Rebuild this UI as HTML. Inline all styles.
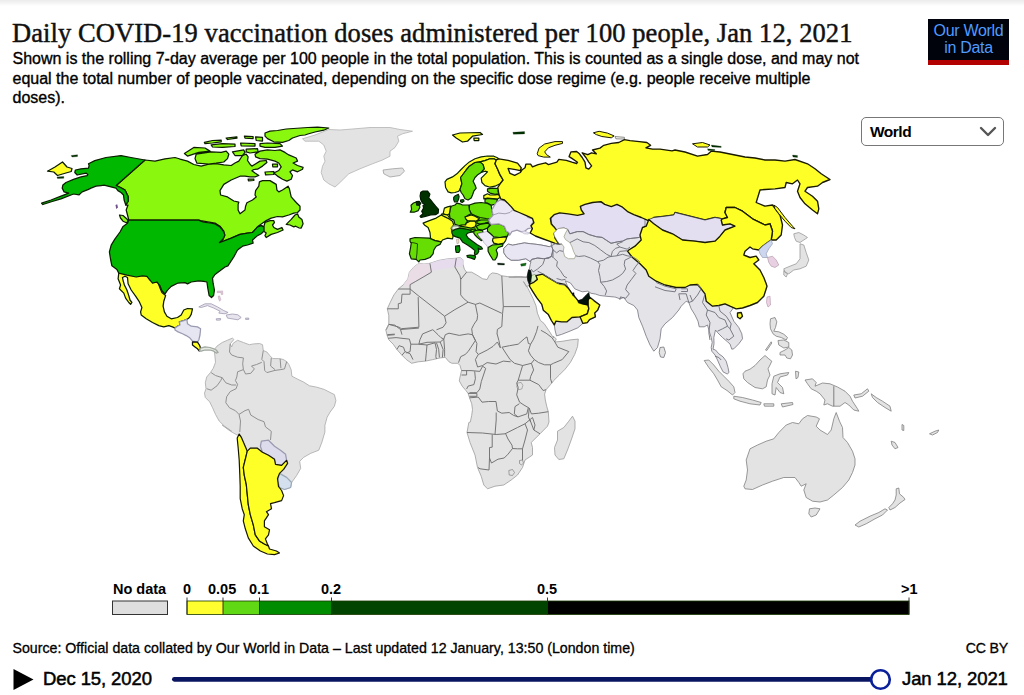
<!DOCTYPE html>
<html><head><meta charset="utf-8"><title>Daily COVID-19 vaccination doses administered per 100 people</title>
<style>
html,body{margin:0;padding:0;background:#fff;}
body{width:1024px;height:695px;position:relative;overflow:hidden;font-family:"Liberation Sans",sans-serif;color:#000;}
.abs{position:absolute;white-space:nowrap;}
#topbar{left:0;top:0;width:1024px;height:6px;background:linear-gradient(#ececec,#f6f6f6 60%,#fff);}
#title{left:12px;top:16px;font-family:"Liberation Serif",serif;font-size:26.5px;line-height:34px;letter-spacing:0.08px;color:#111;-webkit-text-stroke:0.45px #111;}
.sub{left:12.5px;font-size:16px;line-height:20px;letter-spacing:0px;-webkit-text-stroke:0.35px #000;}
#logo{left:928px;top:19px;width:81px;height:46px;background:#00020c;border-bottom:0;}
#logo .red{position:absolute;left:0;bottom:0;width:100%;height:5px;background:#b30000;}
#logo .t{position:absolute;left:0;width:100%;text-align:center;color:#4f9bff;font-size:16px;line-height:17px;letter-spacing:-0.3px;}
#sel{left:861px;top:117px;width:141px;height:27px;border:1.5px solid #777;border-radius:5px;background:#fff;box-sizing:content-box;}
#sel .w{position:absolute;left:8px;top:4px;font-size:15.5px;font-weight:bold;letter-spacing:-0.5px;line-height:19px;}
.leg{font-weight:bold;font-size:14.5px;letter-spacing:0px;line-height:16px;top:580.8px;}
#src{left:12.5px;top:639px;font-size:14.2px;line-height:18px;letter-spacing:0px;-webkit-text-stroke:0.3px #000;}
#cc{right:16px;top:639px;font-size:14.2px;line-height:18px;letter-spacing:-0.2px;-webkit-text-stroke:0.3px #000;}
.date{font-size:18.5px;line-height:24px;top:667px;letter-spacing:-0.1px;-webkit-text-stroke:0.5px #000;}
</style></head><body>
<div class="abs" id="topbar"></div>
<div class="abs" id="title">Daily COVID-19 vaccination doses administered per 100 people, Jan 12, 2021</div>
<div class="abs sub" id="s1" style="top:49px">Shown is the rolling 7-day average per 100 people in the total population. This is counted as a single dose, and may not</div>
<div class="abs sub" id="s2" style="top:68.5px">equal the total number of people vaccinated, depending on the specific dose regime (e.g. people receive multiple</div>
<div class="abs sub" id="s3" style="top:88px">doses).</div>
<div class="abs" id="logo"><div class="t" style="top:3px">Our World</div><div class="t" style="top:20px">in Data</div><div class="red"></div></div>
<div class="abs" id="sel"><span class="w">World</span>
<svg style="position:absolute;right:6px;top:8px" width="18" height="12" viewBox="0 0 18 12"><path d="M2,2 L9,9 L16,2" fill="none" stroke="#555" stroke-width="2.4" stroke-linecap="round" stroke-linejoin="round"/></svg></div>

<svg class="abs" style="left:0;top:0" width="1024" height="695" viewBox="0 0 1024 695">
<g id="map">
<path d="M118.8,273.1 L118.1,278.8 L120.6,285.0 L119.4,288.8 L123.8,293.1 L125.6,298.1 L128.8,302.5 L130.6,304.4 L131.9,302.5 L130.0,300.0 L128.8,295.6 L126.9,290.0 L124.4,285.0 L123.1,280.6 L122.5,277.5 L125.0,276.2 L127.5,277.5 L128.1,283.8 L131.2,290.0 L135.6,296.2 L139.4,301.9 L141.9,307.5 L140.6,311.9 L141.2,315.0 L146.2,318.8 L152.5,322.5 L158.8,325.6 L163.8,326.9 L168.8,325.6 L172.5,326.9 L175.0,328.1 L177.5,326.2 L180.0,325.0 L179.4,321.9 L183.8,320.6 L186.9,319.4 L189.4,317.5 L191.2,314.4 L192.5,308.8 L187.5,308.5 L183.8,310.0 L181.2,315.0 L177.5,317.5 L171.2,318.8 L166.9,316.2 L164.4,311.9 L163.1,306.2 L163.8,301.2 L165.6,295.6 L161.9,292.5 L160.0,288.1 L158.1,282.5 L154.4,281.9 L150.0,280.0 L146.9,275.6 L143.8,274.4 L136.9,275.0 L128.8,273.8 L125.0,272.8Z" fill="#ffff28" stroke="#0c1c00" stroke-width="1.25" stroke-linejoin="round"/>
<path d="M47.5,171.2 L55.0,167.0 L62.5,162.0 L67.0,167.0 L72.0,168.5 L71.2,171.5 L62.5,174.0 L57.5,175.5 L53.8,172.0Z" fill="#ffff28" stroke="#0c1c00" stroke-width="1.25" stroke-linejoin="round"/>
<path d="M71.2,155.5 L77.5,154.8 L77.5,156.5 L72.0,157.0ZM57.0,177.0 L63.8,176.5 L63.8,178.2 L57.5,178.5Z" fill="#003200" stroke="#0c1c00" stroke-width="0.3" stroke-linejoin="round"/>
<path d="M145.0,160.0 L155.0,161.2 L165.0,158.8 L175.0,157.5 L180.0,159.0 L180.0,159.2 L187.5,161.1 L193.8,164.5 L201.2,166.1 L208.8,164.2 L216.2,163.6 L223.8,164.9 L231.2,165.5 L235.0,163.0 L238.8,161.1 L242.5,155.5 L246.2,154.2 L248.1,156.8 L247.5,160.5 L250.0,164.2 L251.9,166.1 L255.0,164.2 L260.0,161.1 L266.2,160.5 L266.9,162.4 L262.5,166.1 L257.5,169.2 L253.8,169.5 L251.9,170.8 L255.0,173.0 L258.8,175.5 L255.0,176.8 L250.0,176.8 L245.0,176.1 L240.0,176.2 L231.2,180.0 L223.8,184.4 L220.0,190.6 L220.6,195.0 L227.5,196.9 L233.8,201.0 L238.8,202.2 L238.1,204.4 L238.1,210.0 L240.0,213.8 L245.0,210.0 L245.6,206.2 L246.9,202.8 L252.5,200.0 L256.2,196.9 L255.0,195.0 L255.6,190.6 L258.8,186.2 L259.4,181.9 L262.5,180.6 L270.0,180.6 L276.2,184.4 L276.9,190.0 L278.8,191.9 L282.5,190.0 L288.1,186.2 L289.4,188.8 L291.2,196.9 L296.2,202.5 L300.0,206.2 L300.0,210.0 L297.5,212.5 L293.8,213.1 L288.8,215.0 L282.5,216.9 L277.5,216.5 L271.2,218.1 L266.2,220.6 L260.6,224.4 L258.1,226.2 L261.2,225.6 L263.8,226.9 L265.0,222.5 L270.0,220.6 L273.8,220.6 L274.4,222.5 L272.5,225.0 L273.8,227.5 L277.5,229.4 L281.9,227.5 L283.1,230.0 L277.5,232.5 L271.2,234.4 L266.2,237.5 L265.0,235.6 L266.2,233.1 L263.8,231.2 L263.8,226.9 L261.2,225.6 L257.5,226.9 L252.5,232.5 L247.5,233.1 L240.0,234.4 L231.2,238.1 L220.0,242.5 L223.1,239.4 L224.4,235.0 L223.8,231.2 L220.0,226.2 L215.0,223.1 L200.6,220.6 L198.8,220.0 L190.0,220.0 L128.8,220.0 L126.2,210.0 L128.0,205.0 L125.8,205.0 L128.2,201.2 L128.0,196.2 L125.0,190.0 L120.5,187.5 L116.2,185.5Z" fill="#8af80e" stroke="#0c1c00" stroke-width="1.25" stroke-linejoin="round"/>
<path d="M286.2,224.4 L291.2,219.4 L295.0,215.0 L297.5,213.8 L298.8,216.9 L301.9,219.4 L303.1,223.8 L301.2,228.1 L298.8,227.8 L295.6,226.2 L293.8,226.9 L290.0,225.0Z" fill="#8af80e" stroke="#0c1c00" stroke-width="1.25" stroke-linejoin="round"/>
<path d="M119.5,215.0 L123.0,215.5 L128.0,220.0 L127.0,223.0 L123.0,221.2 L120.5,218.0Z" fill="#8af80e" stroke="#0c1c00" stroke-width="1.25" stroke-linejoin="round"/>
<path d="M88.5,163.8 L94.8,160.6 L106.0,157.5 L121.0,155.6 L131.0,157.5 L145.0,160.0 L116.2,185.5 L120.5,187.5 L125.0,190.0 L128.0,196.2 L128.2,201.2 L125.8,205.0 L124.1,200.0 L123.5,195.0 L121.0,192.5 L117.9,190.6 L116.0,188.1 L111.0,186.9 L104.1,185.2 L101.0,185.6 L96.0,186.2 L91.0,188.1 L88.5,189.4 L82.2,191.9 L79.1,194.8 L73.5,194.0 L61.0,198.8 L52.2,201.5 L42.9,204.5 L41.6,203.2 L51.0,200.0 L61.0,196.2 L68.8,193.1 L64.1,191.9 L62.2,188.1 L62.9,185.0 L66.0,182.5 L73.5,179.4 L81.0,176.9 L87.2,175.6 L87.9,174.4 L86.0,173.1 L77.2,175.0 L74.8,172.5 L75.4,170.0 L81.0,168.8 L88.5,168.1 L89.1,165.6Z" fill="#00b800" stroke="#0c1c00" stroke-width="1.25" stroke-linejoin="round"/>
<path d="M255.0,154.2 L260.0,151.1 L267.5,149.9 L275.0,150.5 L280.0,149.9 L285.0,152.4 L288.8,154.9 L296.2,158.0 L297.5,161.1 L293.1,163.0 L297.5,165.5 L303.1,167.4 L302.5,169.2 L297.5,171.8 L292.5,169.9 L290.0,171.8 L292.5,175.5 L291.2,179.2 L286.9,181.1 L282.5,179.2 L277.5,176.1 L273.8,173.0 L278.8,170.5 L281.2,166.8 L278.8,163.0 L275.0,161.1 L267.5,159.2 L260.0,158.6 L255.6,156.8ZM265.0,133.0 L270.0,131.1 L277.5,130.5 L286.2,129.0 L307.9,127.5 L317.5,127.2 L328.8,128.0 L323.8,130.2 L315.0,132.0 L307.9,134.0 L305.0,135.0 L300.0,135.5 L292.5,138.0 L288.8,140.5 L282.5,142.4 L273.8,141.8 L267.5,138.6 L265.0,136.1ZM260.0,143.6 L267.5,143.0 L280.0,143.6 L282.5,146.1 L275.0,147.4 L265.0,147.4 L260.0,146.1ZM184.4,153.6 L193.8,147.4 L205.0,148.0 L210.0,151.1 L198.8,152.4 L187.5,156.1ZM196.2,154.2 L211.2,151.8 L221.2,152.4 L226.2,151.1 L228.8,154.2 L227.5,158.6 L223.8,162.0 L216.2,163.2 L208.8,164.0 L196.9,163.2 L195.0,158.6ZM232.5,151.8 L243.8,149.9 L245.0,152.4 L242.5,155.5 L235.0,155.5ZM246.2,149.2 L257.5,148.6 L258.1,151.8 L250.0,153.0 L246.2,151.8ZM204.4,142.4 L212.5,140.5 L221.2,140.2 L221.2,141.8 L212.5,143.0 L205.0,143.6ZM211.2,144.9 L222.5,143.6 L235.0,144.2 L235.0,146.5 L222.5,147.4 L212.5,147.0ZM226.2,138.0 L236.9,136.8 L236.9,138.2 L227.5,139.5ZM244.4,136.1 L253.1,136.5 L253.1,138.6 L245.0,138.2ZM255.6,136.8 L262.5,137.4 L262.5,141.1 L256.2,140.5ZM240.6,143.0 L255.0,143.6 L255.0,146.1 L241.2,145.8ZM265.0,172.0 L273.8,171.5 L273.8,174.5 L265.6,174.9ZM272.5,164.2 L277.5,164.0 L277.5,166.8 L272.8,166.8ZM248.1,179.2 L253.8,179.0 L253.8,180.5 L248.5,180.8Z" fill="#8af80e" stroke="#0c1c00" stroke-width="1.25" stroke-linejoin="round"/>
<path d="M128.8,220.1 L198.8,220.1 L200.0,220.8 L203.8,222.2 L210.0,223.0 L215.0,223.9 L220.0,227.0 L223.1,230.8 L225.0,235.1 L223.1,238.9 L219.4,242.6 L220.0,242.5 L231.2,238.1 L240.0,234.4 L247.5,233.1 L252.5,232.5 L257.5,226.9 L261.2,225.6 L263.8,226.9 L263.8,231.2 L261.2,233.8 L257.5,235.6 L252.5,240.0 L253.1,243.1 L247.5,245.0 L242.5,246.2 L237.5,250.0 L233.8,256.9 L227.9,265.8 L225.0,267.0 L220.0,270.8 L215.0,274.5 L212.5,278.2 L213.1,283.2 L214.4,290.1 L213.6,295.5 L211.5,297.5 L209.1,295.5 L207.8,288.2 L206.9,282.0 L203.8,281.4 L198.8,280.8 L191.2,282.0 L187.5,283.9 L185.0,282.6 L177.5,283.2 L171.2,286.4 L167.5,290.1 L165.0,293.9 L161.9,290.8 L160.0,285.8 L156.9,282.0 L152.5,283.2 L150.0,280.1 L146.9,276.4 L142.5,275.8 L136.2,277.0 L126.9,275.1 L118.8,273.2 L116.9,269.5 L111.9,265.8 L110.6,259.5 L109.4,252.0 L111.2,245.1 L115.0,238.9 L120.0,232.0 L123.1,226.4 L127.5,223.2Z" fill="#00b800" stroke="#0c1c00" stroke-width="1.25" stroke-linejoin="round"/>
<path d="M175.0,328.1 L177.5,326.2 L180.0,325.0 L179.4,321.9 L183.8,320.6 L186.9,319.4 L187.5,323.8 L191.2,326.2 L197.5,326.9 L200.6,328.8 L200.0,335.0 L198.8,340.0 L197.5,341.9 L192.5,341.2 L190.0,338.1 L186.2,335.6 L182.5,333.8 L178.1,331.9 L175.0,330.0Z" fill="#e6e6f2" stroke="#9a9ab0" stroke-width="1.25" stroke-linejoin="round"/>
<path d="M192.5,341.9 L197.5,342.2 L199.4,345.0 L200.6,348.1 L199.4,351.2 L197.5,348.8 L195.0,346.9 L192.5,345.0Z" fill="#ffff28" stroke="#111" stroke-width="1.3" stroke-linejoin="round"/>
<path d="M198.8,306.9 L205.0,303.8 L211.2,303.8 L217.5,306.9 L223.8,310.6 L228.1,312.5 L225.0,313.8 L218.8,313.1 L220.0,311.2 L213.8,308.1 L207.5,305.6 L201.2,307.5ZM226.2,315.0 L232.5,314.0 L237.9,314.8 L241.2,317.5 L237.9,319.8 L233.1,319.0 L227.5,318.1ZM216.2,318.8 L220.6,318.5 L220.6,320.0 L216.5,320.2ZM245.6,318.1 L248.8,318.1 L248.8,319.4 L245.6,319.4Z" fill="#e8e4ee" stroke="#a098b0" stroke-width="0.8" stroke-linejoin="round"/>
<path d="M328.8,129.5 L340.0,130.0 L355.0,128.8 L370.0,127.5 L390.0,127.5 L400.0,129.5 L412.5,131.2 L402.5,133.8 L397.5,136.2 L398.8,141.2 L395.0,147.5 L390.0,151.2 L390.0,156.2 L382.5,160.0 L372.5,163.8 L360.0,168.8 L348.8,173.8 L340.0,182.5 L335.0,187.0 L328.8,183.8 L323.8,180.0 L321.2,172.5 L322.5,166.2 L325.0,161.2 L323.8,156.2 L326.2,151.2 L323.8,145.0 L318.8,141.2 L305.0,141.2 L302.5,138.8 L315.0,135.0Z" fill="#e3e3e3" stroke="#b4b4b4" stroke-width="0.8" stroke-linejoin="round"/>
<path d="M383.0,170.0 L392.5,168.8 L402.5,168.0 L404.5,171.2 L400.0,175.5 L390.0,177.0 L383.8,173.8Z" fill="#e3e3e3" stroke="#a0a0a0" stroke-width="0.8" stroke-linejoin="round"/>
<path d="M452.5,135.0 L460.0,133.0 L480.0,132.5 L482.5,134.5 L472.5,136.2 L467.5,141.2 L462.5,142.0 L456.2,138.0ZM473.8,138.0 L478.8,138.0 L478.8,140.5 L474.2,140.5Z" fill="#ffff28" stroke="#0c1c00" stroke-width="1.25" stroke-linejoin="round"/>
<path d="M214.1,349.8 L217.0,346.1 L222.2,342.5 L227.3,340.3 L232.4,338.1 L233.9,339.5 L230.2,343.9 L231.7,346.9 L233.2,343.2 L237.6,340.3 L243.4,342.5 L249.3,344.7 L253.7,343.9 L259.6,343.5 L262.5,344.7 L263.3,350.5 L266.9,352.0 L269.9,355.7 L272.8,358.6 L278.7,358.6 L283.1,359.4 L286.7,361.6 L288.9,364.5 L291.1,369.6 L291.9,376.2 L297.7,379.2 L303.6,382.1 L309.5,385.8 L316.8,387.2 L324.2,389.4 L330.0,392.4 L334.4,394.6 L335.9,400.5 L334.4,406.3 L330.0,412.2 L327.1,417.3 L324.9,425.4 L324.9,432.0 L324.9,432.1 L321.9,442.2 L318.8,450.2 L310.8,453.3 L303.7,457.3 L299.7,461.3 L300.7,468.4 L296.7,475.4 L291.6,482.5 L290.6,487.5 L284.6,489.5 L279.5,487.5 L277.5,480.5 L279.5,473.4 L283.6,469.4 L287.6,463.3 L286.6,460.3 L281.6,465.3 L275.5,464.3 L274.5,459.3 L268.5,455.3 L262.4,452.2 L257.4,448.2 L250.3,448.2 L247.3,451.2 L244.3,444.2 L241.2,437.1 L239.2,434.1 L237.2,435.1 L230.2,431.1 L222.1,425.0 L231.7,431.3 L224.4,426.1 L219.2,421.0 L215.5,414.4 L212.6,407.8 L209.7,401.9 L205.3,397.5 L204.5,393.1 L206.0,388.7 L205.3,382.8 L206.7,377.0 L210.4,372.6 L213.3,368.2 L215.5,362.3 L214.8,355.0Z" fill="#e3e3e3" stroke="#a8a8a8" stroke-width="0.8" stroke-linejoin="round"/>
<path d="M200.6,348.1 L205.0,346.9 L210.0,347.5 L213.8,348.8 L216.2,350.0 L218.1,352.5 L216.2,353.1 L213.8,351.2 L210.0,350.0 L205.0,350.0 L201.2,351.2 L199.4,351.2Z" fill="#e4e8e0" stroke="#a0a8a0" stroke-width="1.25" stroke-linejoin="round"/>
<path d="M261.4,441.2 L268.5,440.2 L274.5,446.2 L280.5,450.2 L285.6,454.3 L286.6,460.3 L281.6,465.3 L275.5,464.3 L274.5,459.3 L268.5,455.3 L262.4,452.2 L260.4,446.2Z" fill="#dcdcec" stroke="#9a9ab0" stroke-width="1.25" stroke-linejoin="round"/>
<path d="M279.5,473.4 L286.6,477.4 L291.6,482.5 L290.6,487.5 L284.6,489.5 L279.5,487.5 L277.5,480.5Z" fill="#d4e0ee" stroke="#9aa8b8" stroke-width="1.25" stroke-linejoin="round"/>
<path d="M239.2,434.1 L241.2,437.1 L244.3,444.2 L247.3,451.2 L245.3,459.3 L243.3,467.4 L244.3,475.4 L246.3,484.5 L247.3,494.6 L248.3,504.7 L250.3,514.7 L253.3,524.8 L255.3,534.9 L259.4,540.9 L264.4,544.0 L268.5,546.0 L269.5,549.0 L276.5,551.0 L279.5,553.0 L274.5,554.6 L267.4,554.0 L260.4,551.0 L253.3,546.0 L248.3,537.9 L245.3,528.8 L243.3,520.8 L244.3,514.7 L242.2,508.7 L240.2,498.6 L240.2,486.5 L239.8,474.4 L239.2,460.3 L238.2,448.2 L237.2,438.1Z" fill="#ffff28" stroke="#161600" stroke-width="1.2" stroke-linejoin="round"/>
<path d="M247.3,451.2 L250.3,448.2 L257.4,448.2 L262.4,452.2 L268.5,455.3 L274.5,459.3 L275.5,464.3 L281.6,465.3 L286.6,460.3 L287.6,463.3 L283.6,469.4 L279.5,473.4 L277.5,478.5 L278.5,486.5 L281.6,490.5 L283.6,495.6 L281.6,500.6 L274.5,502.6 L270.5,503.6 L271.5,508.7 L266.4,511.7 L268.5,514.7 L264.4,520.8 L264.4,526.8 L269.5,529.8 L268.5,534.9 L265.4,538.9 L267.4,544.0 L268.5,546.0 L264.4,544.0 L259.4,540.9 L255.3,534.9 L253.3,524.8 L250.3,514.7 L248.3,504.7 L247.3,494.6 L246.3,484.5 L244.3,475.4 L243.3,467.4 L245.3,459.3Z" fill="#ffff28" stroke="#161600" stroke-width="1.2" stroke-linejoin="round"/>
<path d="M418.9,263.3 L424.0,264.1 L429.9,263.3 L438.7,260.4 L447.5,258.9 L456.3,258.2 L460.0,257.5 L462.9,259.7 L462.9,264.1 L464.4,269.2 L466.6,272.2 L471.7,272.2 L476.9,275.1 L482.7,278.8 L487.1,279.5 L489.3,275.1 L492.3,272.9 L497.4,273.6 L501.8,275.8 L507.7,276.6 L515.0,277.3 L520.9,276.6 L526.8,277.3 L508.8,277.2 L516.1,276.4 L523.5,277.2 L527.2,277.2 L529.4,285.2 L526.4,286.7 L523.5,281.6 L527.9,288.2 L533.0,298.4 L536.0,305.8 L537.4,313.1 L540.4,320.5 L544.0,323.4 L549.9,332.2 L553.6,338.1 L553.4,336.1 L556.3,339.1 L554.9,342.0 L562.2,341.3 L571.0,339.8 L578.3,339.1 L577.6,346.4 L574.7,354.5 L570.3,362.6 L565.1,369.2 L559.3,375.0 L553.4,380.9 L550.5,384.6 L546.1,389.7 L544.6,394.1 L545.3,400.0 L546.8,406.6 L548.3,411.7 L549.0,422.0 L547.5,426.2 L540.0,433.8 L531.2,442.5 L532.5,447.5 L532.5,455.0 L525.0,460.0 L522.5,467.5 L517.5,475.0 L511.2,480.0 L503.8,485.0 L495.0,486.2 L487.5,488.8 L483.8,485.0 L481.2,476.2 L477.5,467.5 L475.0,455.0 L470.0,442.5 L467.0,432.5 L468.8,422.5 L470.3,422.0 L471.7,415.4 L472.5,409.5 L471.7,403.7 L469.5,397.8 L468.1,393.4 L465.9,390.5 L462.2,386.1 L459.3,380.9 L460.0,377.2 L461.5,370.6 L460.0,365.5 L457.8,363.3 L451.9,363.3 L449.0,361.8 L445.3,357.4 L440.2,357.9 L432.8,359.6 L425.5,361.1 L418.2,361.8 L411.6,363.3 L406.4,359.6 L401.3,354.5 L396.9,349.4 L393.2,344.2 L388.8,339.8 L387.3,336.1 L385.9,330.3 L388.8,324.4 L385.9,330.1 L388.8,324.3 L388.8,315.5 L387.3,308.8 L390.3,302.2 L393.9,294.9 L398.3,289.0 L403.5,284.6 L407.9,278.8 L409.4,272.2 L413.8,267.0Z" fill="#e3e3e3" stroke="#9c9c9c" stroke-width="0.8" stroke-linejoin="round"/>
<path d="M572.5,416.2 L575.0,421.2 L575.0,428.8 L571.2,440.0 L567.5,450.0 L563.8,458.8 L558.8,459.5 L555.0,455.0 L554.5,447.5 L557.5,440.0 L557.5,431.2 L563.8,427.5 L568.8,421.2Z" fill="#e3e3e3" stroke="#9c9c9c" stroke-width="0.8" stroke-linejoin="round"/>
<path d="M418.9,263.3 L424.0,264.1 L429.9,263.3 L431.4,272.2 L424.0,276.6 L415.2,281.7 L410.1,284.6 L409.4,287.6 L403.5,284.6 L407.9,278.8 L409.4,272.2 L413.8,267.0Z" fill="#eadde6" stroke="none" stroke-width="0" stroke-linejoin="round"/>
<path d="M429.9,263.3 L438.7,260.4 L447.5,258.9 L456.3,258.2 L460.0,257.5 L462.9,259.7 L462.9,264.1 L462.2,267.0 L454.9,267.0 L431.4,270.7Z" fill="#e6dcee" stroke="none" stroke-width="0" stroke-linejoin="round"/>
<path d="M517.4,383.1 L521.1,382.4 L522.9,385.3 L521.8,389.0 L518.5,389.7 L516.7,386.8Z" fill="#e3e3e3" stroke="#707070" stroke-width="0.5" stroke-linejoin="round"/>
<path d="M508.8,470.5 L512.5,469.5 L514.5,472.5 L512.5,475.5 L509.2,475.0ZM519.5,460.5 L522.5,460.0 L523.5,463.0 L521.5,465.0 L519.5,463.5Z" fill="#e3e3e3" stroke="#707070" stroke-width="0.6" stroke-linejoin="round"/>
<path d="M455.0,224.4 L460.0,210.0 L470.0,211.2 L490.0,220.0 L491.2,224.4 L487.5,228.5 L482.5,230.6 L475.0,231.5 L470.0,230.6 L460.0,228.1Z" fill="#66de04" stroke="none" stroke-width="0" stroke-linejoin="round"/>
<path d="M448.1,191.9 L445.6,187.5 L445.0,181.9 L446.9,179.4 L452.5,176.9 L456.9,173.8 L460.6,170.0 L465.0,165.6 L469.4,161.9 L475.0,158.8 L481.2,156.9 L487.5,156.0 L493.8,156.2 L496.9,157.5 L498.8,158.8 L496.2,160.0 L493.8,158.8 L490.0,158.8 L485.0,160.6 L480.0,161.9 L475.0,162.5 L469.4,166.2 L466.2,170.0 L462.5,175.0 L460.6,177.5 L461.9,183.8 L460.0,189.4 L458.8,191.2 L455.0,192.5 L451.2,192.8Z" fill="#ffff28" stroke="#0a2400" stroke-width="1.2" stroke-linejoin="round"/>
<path d="M480.0,161.9 L483.1,164.4 L484.4,168.8 L481.2,172.5 L478.1,174.4 L475.0,177.5 L473.1,181.2 L475.0,185.0 L476.2,188.1 L473.8,191.2 L472.5,195.0 L471.2,198.1 L468.1,200.0 L465.0,198.8 L463.1,195.0 L461.2,192.5 L460.0,189.4 L461.9,183.8 L460.6,177.5 L462.5,175.0 L466.2,170.0 L469.4,166.2 L475.0,162.5Z" fill="#66de04" stroke="#0a2400" stroke-width="1.2" stroke-linejoin="round"/>
<path d="M480.0,161.9 L485.0,160.6 L490.0,158.8 L493.8,158.8 L496.2,160.0 L495.0,163.8 L497.5,168.8 L500.0,175.0 L503.1,180.0 L500.0,183.8 L495.0,186.2 L490.0,187.2 L485.0,185.6 L481.9,182.5 L481.2,178.1 L485.0,174.4 L487.5,171.9 L485.0,171.2 L481.2,172.5 L484.4,168.8 L483.1,164.4Z" fill="#ffff28" stroke="#0a2400" stroke-width="1.2" stroke-linejoin="round"/>
<path d="M487.5,188.8 L492.5,188.1 L498.8,188.5 L498.1,191.2 L498.8,193.8 L495.0,194.4 L490.0,193.1 L487.5,191.2Z" fill="#66de04" stroke="#0a2400" stroke-width="1.2" stroke-linejoin="round"/>
<path d="M483.8,195.6 L487.5,193.8 L490.0,195.0 L495.0,194.8 L498.8,194.4 L500.0,197.5 L497.5,199.0 L492.5,198.5 L487.5,198.1 L483.8,198.8Z" fill="#ffff28" stroke="#0a2400" stroke-width="1.2" stroke-linejoin="round"/>
<path d="M485.0,199.4 L487.5,198.5 L492.5,198.8 L497.5,199.4 L496.2,202.5 L495.0,204.4 L491.2,205.2 L487.5,203.1 L485.0,202.5Z" fill="#66de04" stroke="#0a2400" stroke-width="1.2" stroke-linejoin="round"/>
<path d="M469.4,205.0 L475.0,203.1 L481.2,202.5 L487.5,203.5 L491.2,205.6 L491.9,210.0 L493.1,215.0 L491.2,218.8 L486.2,218.5 L480.0,217.5 L475.0,215.6 L471.2,213.8 L469.4,210.0Z" fill="#66de04" stroke="#0a2400" stroke-width="1.2" stroke-linejoin="round"/>
<path d="M450.0,210.0 L451.2,206.2 L455.0,205.0 L456.9,203.1 L460.0,203.8 L462.5,205.0 L468.8,205.0 L469.4,210.0 L471.2,213.8 L467.5,215.6 L465.6,217.5 L467.5,221.2 L465.0,225.0 L458.8,225.6 L455.0,224.4 L453.8,220.0 L450.0,218.1 L449.4,213.8Z" fill="#66de04" stroke="#0a2400" stroke-width="1.2" stroke-linejoin="round"/>
<path d="M453.7,197.3 L455.3,195.7 L458.4,194.4 L459.1,196.7 L458.4,199.8 L457.2,202.0 L454.6,202.0 L453.7,199.8ZM460.6,200.1 L463.2,199.5 L464.1,201.1 L462.2,202.4 L460.6,201.7Z" fill="#007818" stroke="#0a2400" stroke-width="1.2" stroke-linejoin="round"/>
<path d="M444.4,208.1 L447.5,206.9 L450.6,206.2 L450.0,210.0 L449.4,213.8 L447.5,215.0 L443.1,213.8Z" fill="#ffff28" stroke="#0a2400" stroke-width="1.2" stroke-linejoin="round"/>
<path d="M441.9,213.8 L447.5,215.0 L449.4,217.5 L448.1,219.4 L444.4,218.1 L441.2,215.6Z" fill="#ffff28" stroke="#0a2400" stroke-width="1.2" stroke-linejoin="round"/>
<path d="M420.8,192.2 L423.0,191.0 L427.4,191.0 L429.9,194.1 L428.7,197.9 L430.6,199.8 L433.1,203.0 L435.6,206.2 L438.5,209.3 L438.2,213.1 L435.6,214.7 L430.6,215.0 L425.5,216.3 L421.1,217.5 L420.1,216.3 L423.0,213.7 L421.7,211.2 L423.6,208.1 L423.0,205.5 L425.5,204.9 L422.4,203.0 L420.8,199.8 L420.1,196.0ZM416.3,201.7 L419.2,201.4 L420.8,203.3 L419.5,205.5 L416.7,205.2Z" fill="#003200" stroke="#001800" stroke-width="1.2" stroke-linejoin="round"/>
<path d="M411.0,205.2 L413.5,203.0 L416.3,202.0 L416.7,205.2 L419.5,205.5 L419.8,207.4 L418.2,210.6 L414.1,212.2 L410.3,212.2 L411.6,209.3Z" fill="#66de04" stroke="#0a2400" stroke-width="1.2" stroke-linejoin="round"/>
<path d="M423.1,223.1 L429.4,220.6 L436.2,218.1 L441.2,215.0 L445.0,216.9 L448.8,218.8 L452.5,221.2 L453.8,225.0 L451.2,228.1 L452.5,232.5 L453.1,236.2 L452.5,238.8 L447.5,238.1 L442.5,240.0 L441.2,241.9 L435.0,240.6 L430.6,238.8 L430.0,232.5 L428.1,227.5 L424.4,225.0Z" fill="#ffff28" stroke="#0a2400" stroke-width="1.2" stroke-linejoin="round"/>
<path d="M410.0,238.8 L415.0,237.5 L429.4,238.1 L435.0,240.6 L441.2,241.9 L440.0,244.4 L436.2,246.2 L433.8,250.0 L433.1,253.8 L430.0,257.5 L425.0,259.4 L420.0,260.0 L418.8,261.9 L416.2,259.4 L411.2,258.8 L409.4,253.8 L410.6,247.5 L411.2,243.1 L410.0,241.2Z" fill="#66de04" stroke="#0a2400" stroke-width="1.2" stroke-linejoin="round"/>
<path d="M451.2,228.1 L453.8,225.6 L458.1,226.0 L460.0,227.2 L457.5,229.4 L453.1,230.0Z" fill="#e8f0e0" stroke="#7a8a70" stroke-width="1.2" stroke-linejoin="round"/>
<path d="M451.9,231.2 L455.0,229.4 L460.0,228.1 L465.0,228.8 L470.0,230.0 L472.5,231.9 L470.0,232.5 L467.5,233.1 L466.2,235.0 L468.1,238.1 L472.5,241.2 L476.9,244.4 L481.2,246.9 L482.5,248.8 L480.0,249.4 L478.1,248.1 L478.8,251.2 L477.5,253.8 L475.0,255.0 L474.4,253.1 L475.0,250.6 L471.2,247.5 L467.5,245.0 L462.5,241.9 L460.0,238.1 L456.2,236.9 L453.1,235.6 L451.9,233.1ZM466.9,255.6 L470.0,255.0 L475.0,255.6 L475.6,256.9 L474.4,259.4 L471.2,258.1 L467.5,257.2ZM455.6,246.2 L459.4,245.6 L460.0,250.0 L458.8,252.5 L456.2,252.5 L455.6,249.4Z" fill="#009600" stroke="#0a2400" stroke-width="1.2" stroke-linejoin="round"/>
<path d="M456.5,239.4 L458.8,238.8 L458.8,243.1 L457.0,243.8Z" fill="#f0e8c0" stroke="#a08080" stroke-width="0.5" stroke-linejoin="round"/>
<path d="M465.0,216.9 L471.2,215.0 L475.0,216.2 L479.4,218.8 L476.2,221.2 L471.2,221.2 L467.5,220.6 L465.6,218.8Z" fill="#ffff28" stroke="#0a2400" stroke-width="1.2" stroke-linejoin="round"/>
<path d="M466.2,223.1 L470.0,221.2 L475.0,221.2 L476.2,223.8 L475.0,226.9 L471.2,228.1 L466.2,227.2 L460.0,226.2 L461.2,225.0 L465.6,225.0Z" fill="#ffff28" stroke="#0a2400" stroke-width="1.2" stroke-linejoin="round"/>
<path d="M476.9,221.2 L481.2,220.0 L488.8,220.0 L489.4,221.9 L485.0,223.1 L480.0,224.0 L476.9,223.1Z" fill="#66de04" stroke="#0a2400" stroke-width="1.2" stroke-linejoin="round"/>
<path d="M476.2,226.2 L480.0,224.4 L487.5,223.1 L490.0,224.4 L487.5,228.1 L482.5,230.0 L478.1,229.4Z" fill="#66de04" stroke="#0a2400" stroke-width="1.2" stroke-linejoin="round"/>
<path d="M470.0,230.0 L475.0,228.8 L475.6,230.6 L472.5,231.9Z" fill="#66de04" stroke="#0a2400" stroke-width="1.2" stroke-linejoin="round"/>
<path d="M473.8,231.2 L478.1,230.0 L482.5,230.6 L483.1,232.5 L480.0,233.1 L477.5,233.8 L480.0,237.5 L482.5,240.0 L481.2,240.6 L477.5,237.5 L475.0,235.0 L473.8,233.1Z" fill="#66de04" stroke="#0a2400" stroke-width="1.2" stroke-linejoin="round"/>
<path d="M477.5,233.8 L480.0,233.1 L483.1,232.5 L487.5,231.2 L490.6,233.8 L493.8,236.9 L493.1,238.1 L492.5,240.6 L493.8,243.1 L492.5,245.0 L488.1,247.5 L486.2,245.0 L483.8,242.5 L482.5,240.0 L480.0,237.5Z" fill="#eeeaf6" stroke="#a8a0b8" stroke-width="0.6" stroke-linejoin="round"/>
<path d="M487.5,228.1 L491.2,224.4 L498.8,223.8 L504.4,226.2 L506.2,231.2 L508.8,232.5 L507.5,236.2 L500.0,237.5 L493.8,236.9 L490.6,233.8 L487.5,231.2Z" fill="#66de04" stroke="#0a2400" stroke-width="1.2" stroke-linejoin="round"/>
<path d="M493.1,238.1 L500.0,237.5 L506.9,236.9 L505.6,240.6 L503.8,243.1 L498.8,244.4 L493.8,243.1 L492.5,240.6Z" fill="#ffff28" stroke="#0a2400" stroke-width="1.2" stroke-linejoin="round"/>
<path d="M488.1,247.5 L492.5,245.0 L498.8,244.4 L503.1,243.8 L502.5,246.2 L498.1,247.5 L496.2,250.0 L497.5,253.8 L496.9,256.9 L495.0,260.0 L493.1,260.0 L490.0,255.0 L488.1,251.2Z" fill="#66de04" stroke="#0a2400" stroke-width="1.2" stroke-linejoin="round"/>
<path d="M497.5,263.1 L504.4,263.4 L504.4,265.0 L497.8,264.8Z" fill="#00120a" stroke="#0a2400" stroke-width="0.3" stroke-linejoin="round"/>
<path d="M520.6,264.0 L526.2,263.1 L525.6,265.6 L521.2,266.2Z" fill="#0a6a10" stroke="#0a2400" stroke-width="0.3" stroke-linejoin="round"/>
<path d="M495.0,204.4 L496.2,202.5 L500.0,200.0 L506.2,201.2 L512.5,205.0 L525.0,210.0 L527.9,217.5 L539.0,220.5 L533.2,222.0 L531.0,225.0 L531.7,227.9 L528.0,228.6 L524.4,231.6 L520.7,231.6 L517.0,230.1 L511.9,231.6 L509.7,235.2 L508.8,232.5 L506.2,231.2 L504.4,226.2 L498.8,223.8 L491.2,224.4 L489.4,221.9 L488.8,220.0 L493.1,215.0 L491.9,210.0Z" fill="#ebe7f4" stroke="#a09cb0" stroke-width="1.25" stroke-linejoin="round"/>
<path d="M520.7,231.6 L524.4,231.1 L529.5,233.0 L528.0,234.1 L524.4,233.8Z" fill="#ebe7f4" stroke="#a09cb0" stroke-width="0.5" stroke-linejoin="round"/>
<path d="M508.2,244.0 L512.6,245.2 L518.5,244.0 L524.4,242.9 L530.2,243.7 L536.1,244.3 L542.0,245.2 L549.3,246.7 L551.5,245.8 L550.8,239.6 L550.8,208.8 L583.1,200.0 L645.0,208.8 L700.0,250.0 L740.0,290.0 L732.5,309.2 L730.0,312.5 L733.8,321.2 L738.8,327.5 L741.8,333.8 L742.5,338.8 L738.8,343.8 L733.8,348.8 L731.8,349.2 L730.0,344.0 L727.5,341.8 L722.5,337.5 L717.5,332.5 L715.5,330.0 L713.8,337.5 L714.0,343.8 L713.0,349.2 L715.5,350.0 L718.8,353.8 L723.0,356.8 L726.2,361.2 L728.0,367.5 L729.0,372.5 L727.2,374.0 L723.0,371.8 L720.2,366.2 L717.5,360.0 L715.0,355.0 L711.8,351.2 L711.2,347.5 L712.2,342.5 L711.2,337.5 L709.2,331.2 L707.5,325.0 L704.2,326.8 L699.2,326.8 L698.0,321.2 L695.0,315.0 L691.2,308.8 L688.8,302.5 L686.2,301.2 L681.2,306.2 L678.8,310.0 L672.5,317.5 L665.0,323.8 L661.2,328.8 L660.0,338.8 L657.5,347.5 L653.8,351.2 L650.0,345.0 L646.2,336.2 L642.5,326.2 L638.8,317.5 L637.5,310.0 L633.8,305.5 L627.5,302.5 L623.8,297.5 L620.0,298.8 L615.0,297.0 L614.5,297.0 L605.7,296.2 L599.8,295.5 L595.4,294.0 L591.0,293.3 L588.1,291.1 L582.2,291.8 L574.9,288.9 L570.5,283.0 L565.3,280.8 L568.3,288.2 L571.9,293.3 L575.6,297.7 L578.5,301.4 L582.2,299.2 L585.9,295.5 L588.8,292.6 L589.5,297.0 L593.9,300.6 L599.8,305.0 L597.6,310.2 L594.7,313.1 L595.4,316.8 L589.5,319.7 L587.3,322.7 L582.9,323.4 L577.8,327.8 L569.0,331.5 L561.6,334.4 L556.5,335.9 L555.0,330.0 L554.3,324.9 L551.4,320.5 L548.4,314.6 L543.3,310.2 L541.8,304.3 L536.7,297.7 L533.0,291.8 L529.4,286.0 L529.4,284.5 L527.9,280.8 L527.2,276.4 L528.6,269.8 L529.1,270.5 L530.2,264.6 L531.0,261.6 L530.2,261.6 L525.8,258.7 L518.5,260.2 L511.1,260.2 L506.7,257.2 L503.8,252.8 L503.8,248.4Z" fill="#e3e3e8" stroke="#74747e" stroke-width="0.8" stroke-linejoin="round"/>
<path d="M503.8,248.4 L508.2,244.0 L512.6,245.2 L518.5,244.0 L524.4,242.9 L530.2,243.7 L536.1,244.3 L542.0,245.2 L549.3,246.7 L551.5,245.8 L553.0,249.9 L551.5,255.8 L549.3,258.0 L543.4,258.7 L537.6,258.0 L531.7,259.4 L530.2,261.6 L525.8,258.7 L518.5,260.2 L511.1,260.2 L506.7,257.2 L503.8,252.8Z" fill="#e8e6f2" stroke="#74747e" stroke-width="0.85" stroke-linejoin="round"/>
<path d="M660.0,347.5 L663.8,347.0 L665.5,352.5 L663.8,357.5 L660.5,357.0 L659.2,352.5Z" fill="#e3e3e3" stroke="#74747e" stroke-width="0.8" stroke-linejoin="round"/>
<path d="M550.8,208.8 L583.1,200.0 L645.0,208.8 L645.0,226.4 L642.5,229.4 L641.0,234.5 L639.6,237.4 L633.0,238.2 L627.1,238.9 L622.7,241.1 L617.6,241.8 L611.0,243.3 L606.6,240.4 L602.1,237.4 L596.3,236.7 L588.9,234.5 L583.1,231.6 L577.2,231.6 L569.9,233.8 L567.7,229.4 L564.0,227.9 L558.1,228.6 L553.7,233.0 L551.5,222.0Z" fill="#e4def2" stroke="#74747e" stroke-width="0.85" stroke-linejoin="round"/>
<path d="M498.8,158.8 L508.1,160.3 L517.5,163.1 L521.3,167.8 L520.3,170.6 L515.6,169.7 L508.1,168.4 L510.0,173.4 L514.7,175.3 L520.3,172.5 L522.2,169.7 L525.0,167.8 L525.9,164.1 L530.6,164.1 L532.5,166.9 L538.1,164.6 L545.6,162.8 L548.4,164.6 L556.9,162.2 L558.8,159.4 L566.3,160.3 L571.9,162.2 L576.6,163.5 L577.5,162.2 L571.9,158.4 L569.1,156.6 L570.9,151.9 L576.6,151.5 L579.4,153.8 L582.2,157.5 L585.0,162.2 L585.9,167.8 L588.8,169.1 L591.6,165.9 L588.8,162.2 L585.9,157.5 L582.2,152.8 L587.8,154.7 L591.6,152.8 L596.3,153.8 L592.5,150.0 L600.0,148.1 L603.8,145.3 L611.3,143.4 L618.8,142.5 L624.4,139.7 L630.0,140.6 L639.4,141.6 L646.9,142.5 L650.6,145.3 L645.9,147.8 L652.5,149.1 L660.0,149.1 L672.0,150.9 L675.0,150.0 L685.0,152.0 L697.5,156.2 L707.5,154.5 L711.2,151.2 L720.0,152.0 L732.5,154.5 L745.0,157.0 L755.0,158.0 L765.0,160.0 L775.0,160.0 L785.0,161.2 L795.0,159.5 L807.5,163.8 L815.0,168.8 L821.2,173.8 L830.0,179.5 L822.5,182.5 L817.5,186.2 L807.5,187.5 L805.0,191.2 L812.5,196.2 L817.5,201.2 L818.8,208.8 L817.5,213.8 L812.5,210.0 L805.0,203.8 L800.0,197.5 L797.5,191.2 L800.0,183.8 L797.5,180.0 L792.5,183.8 L786.2,182.5 L785.0,187.5 L775.0,188.8 L765.0,189.5 L760.0,190.0 L756.2,202.5 L765.0,206.2 L772.5,205.0 L780.0,215.0 L782.5,225.0 L781.2,235.0 L776.2,240.0 L771.2,240.0 L772.5,231.2 L770.0,223.8 L765.0,225.0 L752.5,218.8 L742.5,211.2 L735.0,207.5 L726.2,207.5 L725.0,212.5 L727.5,217.5 L722.5,218.8 L715.0,217.5 L705.0,220.0 L695.0,217.5 L685.0,215.0 L675.0,212.5 L673.8,215.0 L665.0,216.2 L653.8,217.5 L650.6,221.3 L647.8,220.3 L641.3,217.5 L633.8,214.7 L628.1,211.9 L622.5,207.2 L616.9,204.4 L611.3,206.6 L604.7,204.4 L600.9,201.6 L592.5,202.5 L585.0,204.4 L580.3,206.3 L581.3,210.0 L584.1,213.8 L577.5,215.3 L568.1,213.8 L559.7,212.8 L554.1,214.7 L550.3,218.4 L551.3,224.1 L554.1,226.9 L556.9,230.6 L554.1,233.4 L555.0,238.1 L558.8,243.8 L559.6,244.0 L555.2,243.3 L549.3,241.1 L542.0,238.5 L535.4,236.0 L530.2,233.0 L532.4,228.6 L531.0,225.7 L533.9,222.8 L532.4,218.3 L525.8,215.4 L519.2,212.5 L514.1,210.3 L511.1,206.6 L507.5,202.9 L504.5,200.0 L500.6,198.8 L498.8,194.1 L497.8,187.5 L500.1,183.8 L503.1,180.0 L500.1,174.9 L497.4,168.8 L495.0,163.7 L496.3,159.9Z" fill="#ffff28" stroke="#1a1a00" stroke-width="1.35" stroke-linejoin="round"/>
<path d="M537.2,153.8 L539.1,148.1 L544.7,144.0 L555.0,141.6 L562.5,141.6 L562.5,143.4 L555.0,145.3 L548.4,147.8 L544.7,151.9 L546.6,154.7 L550.3,157.1 L543.8,157.1 L538.1,155.6ZM593.4,132.8 L599.1,131.3 L607.5,133.1 L614.1,135.9 L611.3,137.8 L601.9,136.5 L596.3,134.6ZM773.8,205.0 L777.5,207.5 L785.0,217.5 L792.5,226.2 L795.0,228.8 L791.2,227.5 L785.0,221.2 L778.8,213.8 L775.0,208.8ZM692.5,143.8 L702.5,142.5 L710.0,145.0 L707.5,147.0 L697.5,147.0Z" fill="#ffff28" stroke="#1a1a00" stroke-width="1.0" stroke-linejoin="round"/>
<path d="M615.0,136.5 L624.4,137.3 L624.4,139.1 L615.9,138.8Z" fill="#f4f4f0" stroke="#444" stroke-width="0.6" stroke-linejoin="round"/>
<path d="M512.8,132.2 L524.6,131.6 L524.6,133.9 L513.4,134.3ZM711.2,145.0 L721.2,146.2 L721.2,147.5 L712.0,147.0ZM707.5,148.8 L715.0,149.5 L714.5,150.8 L708.0,150.5ZM792.5,155.0 L797.5,155.5 L797.5,157.5 L793.0,157.0Z" fill="#003200" stroke="#0c1c00" stroke-width="0.2" stroke-linejoin="round"/>
<path d="M653.8,217.5 L665.0,216.2 L673.8,215.0 L675.0,212.5 L685.0,215.0 L695.0,217.5 L705.0,220.0 L715.0,217.5 L722.5,218.8 L721.2,220.0 L722.5,225.0 L730.0,223.8 L735.0,226.2 L725.0,230.0 L720.0,236.2 L715.0,241.2 L705.0,242.5 L695.0,241.2 L682.5,240.0 L672.5,233.8 L662.5,230.0 L653.8,223.8 L648.8,219.5Z" fill="#e3dff0" stroke="#333" stroke-width="0.8" stroke-linejoin="round"/>
<path d="M648.8,219.5 L653.8,223.8 L662.5,230.0 L672.5,233.8 L682.5,240.0 L695.0,241.2 L705.0,242.5 L715.0,241.2 L720.0,236.2 L725.0,230.0 L735.0,226.2 L730.0,223.8 L722.5,225.0 L721.2,220.0 L722.5,218.8 L727.5,217.5 L725.0,212.5 L726.2,207.5 L735.0,207.5 L742.5,211.2 L752.5,218.8 L765.0,225.0 L770.0,223.8 L772.5,231.2 L771.2,240.0 L767.5,242.5 L762.5,246.2 L758.8,250.0 L752.5,248.8 L750.0,247.0 L745.0,251.2 L743.8,255.0 L750.0,257.5 L756.2,256.2 L758.8,260.0 L753.8,263.8 L760.0,270.0 L763.8,277.5 L766.2,283.8 L767.0,286.2 L763.8,296.2 L757.5,302.5 L750.0,305.5 L742.5,308.0 L736.2,308.8 L730.0,306.2 L725.0,303.8 L718.8,305.5 L712.5,306.2 L706.2,301.2 L705.0,293.8 L701.2,288.8 L697.5,284.5 L690.0,285.0 L685.0,287.5 L676.2,287.5 L665.0,285.0 L656.2,281.2 L648.8,276.2 L646.2,270.0 L640.0,263.8 L632.5,257.5 L627.5,251.2 L628.8,250.0 L635.0,246.2 L641.2,240.0 L640.0,235.0 L642.5,227.5 L646.2,226.2Z" fill="#ffff28" stroke="#1a1a00" stroke-width="1.35" stroke-linejoin="round"/>
<path d="M737.5,313.0 L741.2,312.5 L742.5,316.2 L740.0,318.8 L737.5,317.0Z" fill="#ffff28" stroke="#1a1a00" stroke-width="1.35" stroke-linejoin="round"/>
<path d="M767.0,297.0 L770.0,296.2 L770.5,305.0 L768.0,307.0 L766.5,302.5Z" fill="#ecd4e4" stroke="#b090a8" stroke-width="0.6" stroke-linejoin="round"/>
<path d="M758.8,250.0 L762.5,246.2 L767.5,242.5 L771.2,240.0 L772.5,243.8 L768.8,248.8 L766.2,253.8 L767.5,257.5 L762.5,257.5 L760.0,253.8Z" fill="#ccd6ee" stroke="#8890a8" stroke-width="0.6" stroke-linejoin="round"/>
<path d="M767.5,257.5 L772.5,256.2 L776.2,260.0 L778.8,265.0 L775.0,267.5 L771.2,266.2 L768.8,262.5Z" fill="#e8d0e2" stroke="#a890a0" stroke-width="0.6" stroke-linejoin="round"/>
<path d="M793.8,233.8 L798.8,232.5 L803.8,235.0 L807.5,237.5 L803.8,240.0 L800.0,242.5 L796.2,241.2 L794.5,237.5ZM800.0,243.8 L803.8,245.0 L806.2,252.5 L808.8,260.0 L806.2,266.2 L800.0,268.8 L793.8,270.0 L788.8,273.8 L785.0,272.5 L783.8,268.8 L790.0,266.2 L796.2,263.8 L800.0,258.8 L800.0,250.0ZM783.8,270.5 L787.5,273.8 L786.2,277.0 L783.8,275.0Z" fill="#e3e3e3" stroke="#9a9a9a" stroke-width="0.8" stroke-linejoin="round"/>
<path d="M530.8,275.7 L535.2,274.2 L537.4,279.4 L533.8,282.3 L530.8,281.6Z" fill="#d8f0c0" stroke="#789060" stroke-width="0.6" stroke-linejoin="round"/>
<path d="M533.8,282.3 L537.4,279.4 L536.0,275.7 L542.6,274.2 L549.9,278.6 L557.2,283.0 L564.6,284.5 L568.3,288.2 L571.9,293.3 L575.6,297.7 L578.5,301.4 L582.2,303.6 L588.1,305.0 L588.8,308.7 L587.3,313.8 L580.0,316.8 L571.9,317.5 L566.8,321.9 L561.6,321.9 L555.8,321.2 L554.3,324.9 L551.4,320.5 L548.4,314.6 L543.3,310.2 L541.8,304.3 L536.7,297.7 L533.0,291.8 L529.4,286.0 L530.1,283.8Z" fill="#ffff28" stroke="#1a1a00" stroke-width="1.35" stroke-linejoin="round"/>
<path d="M589.5,297.0 L593.9,300.6 L599.8,305.0 L597.6,310.2 L594.7,313.1 L595.4,316.8 L589.5,319.7 L587.3,322.7 L582.9,323.4 L580.0,316.8 L587.3,313.8 L588.8,308.7 L588.1,305.0 L588.1,300.6Z" fill="#ffff28" stroke="#1a1a00" stroke-width="1.35" stroke-linejoin="round"/>
<path d="M577.8,300.6 L582.2,299.2 L585.9,295.5 L588.8,292.6 L589.5,297.0 L588.1,300.6 L588.1,305.0 L582.2,304.0 L578.5,303.1Z" fill="#00120a" stroke="#000" stroke-width="0.5" stroke-linejoin="round"/>
<path d="M528.6,269.8 L530.8,270.5 L531.6,275.7 L530.8,281.6 L529.4,284.5 L527.9,280.8 L527.2,276.4 L527.9,272.8Z" fill="#00120a" stroke="#000" stroke-width="0.5" stroke-linejoin="round"/>
<path d="M572.5,292.9 L574.0,292.6 L574.3,295.8 L572.8,296.1Z" fill="#00120a" stroke="#000" stroke-width="0.2" stroke-linejoin="round"/>
<path d="M553.7,233.0 L556.6,230.1 L558.1,228.6 L564.0,227.9 L567.7,229.4 L565.5,233.0 L564.0,236.7 L565.5,239.6 L569.9,242.6 L572.1,247.0 L573.5,251.4 L575.7,255.8 L574.3,258.7 L568.4,258.7 L564.7,256.5 L563.3,251.4 L564.0,247.0 L561.8,244.0 L559.6,244.0 L557.4,241.1 L554.4,236.0Z" fill="#ffffff" stroke="#8a8a70" stroke-width="0.6" stroke-linejoin="round"/>
<path d="M704.2,360.5 L708.8,360.0 L713.8,365.0 L718.8,371.2 L723.8,376.2 L728.8,381.2 L733.8,386.8 L735.0,392.5 L732.5,395.0 L727.0,390.5 L721.2,386.8 L717.5,380.0 L713.8,373.8 L708.8,367.5ZM733.8,396.2 L742.5,397.5 L752.5,400.0 L761.2,402.5 L760.0,405.0 L750.0,403.8 L740.0,401.2 L733.8,398.8ZM743.0,373.8 L745.0,371.2 L750.0,369.2 L755.0,365.5 L760.0,360.0 L765.0,355.5 L768.8,358.8 L771.8,361.2 L770.0,365.0 L768.0,368.8 L770.0,375.0 L767.5,380.0 L766.2,386.8 L762.5,388.8 L755.0,387.5 L747.5,382.5 L743.8,378.8ZM773.8,376.2 L780.0,373.8 L788.8,372.5 L787.5,375.0 L780.0,377.0 L777.5,382.5 L782.5,387.5 L783.8,393.8 L780.0,392.5 L776.2,387.5 L775.0,395.0 L772.0,393.8 L772.0,383.8ZM770.5,318.8 L775.0,317.5 L776.8,321.8 L775.5,327.5 L773.8,331.2 L778.8,331.8 L783.8,334.2 L787.5,337.5 L786.2,340.0 L781.2,337.5 L776.2,336.2 L773.0,333.8 L770.5,328.8 L770.0,323.8ZM778.0,340.5 L783.8,340.0 L788.8,342.5 L788.8,347.0 L783.8,348.0 L778.8,345.0ZM780.0,352.5 L785.0,350.0 L788.8,347.5 L791.8,350.0 L792.5,355.0 L790.5,358.8 L786.8,358.0 L785.0,355.0 L780.0,355.0ZM765.5,350.0 L771.2,341.8 L771.8,343.0 L766.8,350.5ZM763.8,403.8 L773.8,403.8 L773.8,406.2 L764.5,406.2ZM781.2,403.8 L792.5,402.5 L793.0,404.5 L782.5,407.0ZM795.5,371.2 L798.8,372.0 L798.0,377.5 L796.0,378.8Z" fill="#e3e3e3" stroke="#808080" stroke-width="0.8" stroke-linejoin="round"/>
<path d="M805.0,380.0 L812.5,378.8 L816.2,382.5 L815.0,386.2 L822.5,383.0 L830.0,383.8 L837.5,387.0 L845.0,391.2 L850.0,396.2 L852.5,401.2 L857.5,408.8 L858.8,411.2 L853.8,410.0 L848.8,405.0 L845.0,402.5 L840.0,406.2 L832.5,406.2 L827.5,403.8 L823.8,405.0 L825.0,400.0 L820.0,393.8 L816.2,391.2 L811.2,388.8 L807.5,383.8ZM853.8,395.0 L861.2,393.8 L867.5,388.8 L868.8,391.2 L862.5,396.2 L855.0,398.0ZM871.2,393.8 L876.2,397.5 L882.5,401.2 L890.0,406.2 L891.2,411.2 L885.0,407.5 L877.5,402.5 L872.5,397.5ZM902.0,424.5 L903.8,425.5 L903.8,430.5 L902.0,430.0ZM891.2,441.2 L895.0,442.5 L898.0,447.5 L895.0,448.8 L892.0,445.0ZM929.5,433.8 L935.0,431.2 L938.8,430.0 L937.5,432.5 L932.5,435.0ZM743.8,486.2 L746.2,480.0 L747.5,470.0 L746.2,460.0 L750.0,448.8 L757.5,445.0 L766.2,441.2 L773.8,438.8 L778.8,432.5 L786.2,425.0 L792.5,422.5 L798.8,423.8 L802.5,418.8 L807.5,415.5 L816.2,417.0 L819.5,418.8 L816.2,426.2 L820.0,430.0 L827.5,434.5 L831.2,430.0 L833.8,418.8 L836.2,412.5 L839.5,421.2 L842.5,427.5 L843.0,437.5 L847.5,442.5 L852.5,451.2 L855.0,458.8 L855.0,465.0 L852.5,472.5 L848.8,480.0 L842.5,487.5 L833.8,495.0 L827.5,500.0 L820.0,502.0 L812.5,501.2 L806.2,497.5 L803.8,490.0 L806.2,483.8 L801.2,486.2 L798.8,482.5 L795.0,477.5 L783.8,477.5 L772.5,481.2 L762.5,485.0 L752.5,489.5 L745.0,488.8ZM809.5,508.8 L815.0,508.0 L820.0,508.8 L816.2,515.0 L811.2,517.0 L808.8,513.8ZM896.2,488.8 L898.8,488.0 L899.5,493.8 L903.8,497.5 L905.0,499.5 L900.0,503.0 L895.0,507.5 L890.0,510.0 L888.8,507.5 L892.5,503.8 L895.0,500.0 L896.2,495.0ZM885.0,508.8 L887.5,510.0 L882.5,515.0 L875.0,518.8 L866.2,523.8 L858.8,527.0 L855.0,525.0 L860.0,521.2 L870.0,516.2 L878.8,512.5Z" fill="#e3e3e3" stroke="#808080" stroke-width="0.8" stroke-linejoin="round"/>
<path d="M115.5,205.0 L117.2,204.2 L118.0,207.5 L116.2,209.0Z" fill="#70508a" stroke="none" stroke-width="0" stroke-linejoin="round"/>
<path d="M217.2,291.2 L222.6,290.9 L222.9,294.4 L221.3,294.6 L221.0,292.5 L217.3,292.7ZM218.2,296.1 L219.7,295.9 L220.9,299.7 L219.7,301.3 L218.6,299.1Z" fill="#e0c8d8" stroke="#b090a8" stroke-width="0.4" stroke-linejoin="round"/>
<path d="M230.2,343.9 L229.5,352.0 L231.7,355.0 L237.6,357.2 L243.4,357.9 L242.7,363.8 L243.4,369.6 L237.6,371.8 L236.8,377.0 L235.4,380.6 L237.6,384.3 L236.1,388.7 L230.2,391.6 L226.6,396.8 L225.8,402.7 L229.5,407.8 L235.4,410.7 L239.0,414.4 L244.9,410.7 L248.6,409.3 L250.8,415.1 L258.1,419.5 L264.0,421.7 L265.5,426.9 L271.3,431.3" fill="none" stroke="#8c8c8c" stroke-width="0.95" stroke-linejoin="round"/>
<path d="M211.1,372.6 L215.5,375.5 L222.2,377.7 L225.8,382.8 L231.7,385.0 L236.1,385.0" fill="none" stroke="#8c8c8c" stroke-width="0.95" stroke-linejoin="round"/>
<path d="M206.7,388.7 L211.1,390.2 L217.0,385.8 L220.7,380.6 L222.2,377.7" fill="none" stroke="#8c8c8c" stroke-width="0.95" stroke-linejoin="round"/>
<path d="M239.0,414.4 L240.5,421.0 L239.8,432.0" fill="none" stroke="#8c8c8c" stroke-width="0.95" stroke-linejoin="round"/>
<path d="M263.3,350.5 L261.8,359.4 L264.0,361.6 L264.7,370.4 L266.9,372.6 L275.0,370.4 L280.9,369.6 L284.5,368.9 L286.7,361.6" fill="none" stroke="#8c8c8c" stroke-width="0.95" stroke-linejoin="round"/>
<path d="M243.4,369.6 L245.6,374.0 L250.8,373.3 L254.4,368.9 L251.5,366.0 L256.6,364.5 L261.8,362.3" fill="none" stroke="#8c8c8c" stroke-width="0.95" stroke-linejoin="round"/>
<path d="M271.3,357.9 L270.6,366.0 L275.0,369.6" fill="none" stroke="#8c8c8c" stroke-width="0.95" stroke-linejoin="round"/>
<path d="M280.1,358.6 L280.9,368.2" fill="none" stroke="#8c8c8c" stroke-width="0.95" stroke-linejoin="round"/>
<path d="M429.9,263.3 L431.4,272.2 L424.0,276.6 L415.2,281.7 L410.1,284.6 L410.1,289.0 L398.3,289.0" fill="none" stroke="#707070" stroke-width="0.95" stroke-linejoin="round"/>
<path d="M410.1,289.0 L410.1,294.2 L402.0,294.2 L401.3,303.0 L398.3,303.7 L398.3,308.8 L387.3,308.8" fill="none" stroke="#707070" stroke-width="0.95" stroke-linejoin="round"/>
<path d="M410.1,289.0 L418.2,295.6 L444.6,316.2 L454.9,309.6 L468.1,302.2" fill="none" stroke="#707070" stroke-width="0.95" stroke-linejoin="round"/>
<path d="M418.2,297.1 L418.9,327.2 L401.3,328.7 L399.1,327.2 L388.8,324.3" fill="none" stroke="#707070" stroke-width="0.95" stroke-linejoin="round"/>
<path d="M456.3,258.2 L454.9,267.0 L460.0,275.8 L460.7,279.5 L460.7,294.9 L463.7,298.6 L468.1,302.2 L475.4,304.4 L479.8,303.0 L501.8,313.3" fill="none" stroke="#707070" stroke-width="0.95" stroke-linejoin="round"/>
<path d="M466.6,272.2 L460.7,279.5" fill="none" stroke="#707070" stroke-width="0.95" stroke-linejoin="round"/>
<path d="M501.8,275.8 L503.3,306.6 L502.6,313.3 L501.8,326.5 L497.4,329.4 L497.0,334.1" fill="none" stroke="#707070" stroke-width="0.95" stroke-linejoin="round"/>
<path d="M503.3,306.6 L530.0,306.6" fill="none" stroke="#707070" stroke-width="0.95" stroke-linejoin="round"/>
<path d="M475.4,304.4 L477.6,315.5 L477.0,320.2" fill="none" stroke="#707070" stroke-width="0.95" stroke-linejoin="round"/>
<path d="M444.6,316.2 L446.1,322.8 L443.1,327.2 L436.5,329.8" fill="none" stroke="#707070" stroke-width="0.95" stroke-linejoin="round"/>
<path d="M388.8,324.4 L394.7,325.1 L400.5,329.5 L402.0,334.7" fill="none" stroke="#707070" stroke-width="0.95" stroke-linejoin="round"/>
<path d="M387.3,334.7 L394.7,334.1" fill="none" stroke="#707070" stroke-width="0.95" stroke-linejoin="round"/>
<path d="M387.3,335.3 L394.7,334.7" fill="none" stroke="#707070" stroke-width="0.95" stroke-linejoin="round"/>
<path d="M388.1,338.3 L396.1,337.6 L402.0,338.3 L409.4,339.1 L410.8,344.2 L410.1,351.6 L406.4,353.0" fill="none" stroke="#707070" stroke-width="0.95" stroke-linejoin="round"/>
<path d="M396.9,349.4 L399.1,345.7 L403.5,347.2 L405.0,351.6 L402.0,355.2" fill="none" stroke="#707070" stroke-width="0.95" stroke-linejoin="round"/>
<path d="M405.0,351.6 L410.1,353.8 L413.0,359.6" fill="none" stroke="#707070" stroke-width="0.95" stroke-linejoin="round"/>
<path d="M400.5,329.5 L418.9,328.1" fill="none" stroke="#707070" stroke-width="0.95" stroke-linejoin="round"/>
<path d="M410.8,344.2 L418.9,344.2 L427.0,345.0 L426.2,353.8 L425.5,361.1" fill="none" stroke="#707070" stroke-width="0.95" stroke-linejoin="round"/>
<path d="M427.0,345.0 L435.0,342.8 L436.5,349.4 L435.8,356.7 L436.5,358.9" fill="none" stroke="#707070" stroke-width="0.95" stroke-linejoin="round"/>
<path d="M436.5,342.8 L438.7,349.4 L439.4,357.4" fill="none" stroke="#707070" stroke-width="0.95" stroke-linejoin="round"/>
<path d="M440.2,342.0 L443.1,349.4 L442.4,357.4" fill="none" stroke="#707070" stroke-width="0.95" stroke-linejoin="round"/>
<path d="M418.9,344.2 L419.9,339.8 L422.6,333.9 L432.8,329.7 L438.0,334.7 L440.9,337.6 L443.8,339.1 L440.2,342.0 L427.0,342.3 L418.9,344.2" fill="none" stroke="#707070" stroke-width="0.95" stroke-linejoin="round"/>
<path d="M443.8,339.1 L445.3,334.7 L449.0,333.2 L459.3,335.4 L468.1,333.9 L472.5,334.7" fill="none" stroke="#707070" stroke-width="0.95" stroke-linejoin="round"/>
<path d="M443.8,339.1 L444.6,349.4 L444.6,356.7" fill="none" stroke="#707070" stroke-width="0.95" stroke-linejoin="round"/>
<path d="M472.5,334.7 L475.4,340.5 L471.0,347.2 L468.1,351.6 L465.1,354.5 L460.7,356.7 L458.5,362.6" fill="none" stroke="#707070" stroke-width="0.95" stroke-linejoin="round"/>
<path d="M472.5,334.7 L476.9,343.5 L476.1,351.6 L478.3,354.5 L487.1,350.1 L493.0,346.4 L497.4,342.0 L500.4,347.9" fill="none" stroke="#707070" stroke-width="0.95" stroke-linejoin="round"/>
<path d="M472.5,334.7 L471.7,328.8 L473.9,324.4 L476.9,320.0" fill="none" stroke="#707070" stroke-width="0.95" stroke-linejoin="round"/>
<path d="M497.1,333.9 L498.9,340.5 L500.4,347.9" fill="none" stroke="#707070" stroke-width="0.95" stroke-linejoin="round"/>
<path d="M478.3,354.5 L475.4,359.6 L477.6,367.0 L482.7,365.5 L487.1,362.6 L496.0,364.0 L503.3,361.1 L510.6,361.8" fill="none" stroke="#707070" stroke-width="0.95" stroke-linejoin="round"/>
<path d="M461.5,370.6 L471.0,370.6 L479.8,371.4 L482.7,366.2 L485.7,368.4 L481.3,381.6 L479.8,389.0 L476.9,392.7 L469.5,392.7" fill="none" stroke="#707070" stroke-width="0.95" stroke-linejoin="round"/>
<path d="M461.5,375.0 L466.6,375.0 L466.6,370.6" fill="none" stroke="#707070" stroke-width="0.95" stroke-linejoin="round"/>
<path d="M474.7,371.4 L475.4,378.7 L473.9,384.6 L468.1,386.1 L466.6,389.0" fill="none" stroke="#707070" stroke-width="0.95" stroke-linejoin="round"/>
<path d="M468.1,393.4 L476.9,393.4 L476.9,396.3 L469.5,396.3" fill="none" stroke="#707070" stroke-width="0.95" stroke-linejoin="round"/>
<path d="M469.5,397.8 L478.3,397.1 L482.0,402.2 L488.6,401.5 L496.0,401.5 L497.4,411.0 L501.8,413.2 L509.2,412.5 L513.6,415.4 L518.0,416.9 L526.8,413.9 L528.2,408.1" fill="none" stroke="#707070" stroke-width="0.95" stroke-linejoin="round"/>
<path d="M519.4,403.7 L515.0,406.6 L514.3,413.9 L518.0,416.9" fill="none" stroke="#707070" stroke-width="0.95" stroke-linejoin="round"/>
<path d="M538.0,325.9 L536.5,331.7 L533.6,339.1 L530.6,344.2 L528.4,350.8 L530.6,355.2 L534.3,359.6 L538.7,362.6 L544.6,364.8 L550.5,364.8 L550.5,378.7 L551.9,383.1" fill="none" stroke="#707070" stroke-width="0.95" stroke-linejoin="round"/>
<path d="M540.9,330.3 L546.1,333.2 L551.9,337.6 L554.9,342.0 L557.8,347.2 L568.8,351.6 L562.2,359.6 L553.4,363.3 L550.5,364.8" fill="none" stroke="#707070" stroke-width="0.95" stroke-linejoin="round"/>
<path d="M530.6,344.2 L528.4,343.5 L527.0,336.9 L524.8,338.3 L518.2,344.2 L509.4,345.7 L502.0,347.2" fill="none" stroke="#707070" stroke-width="0.95" stroke-linejoin="round"/>
<path d="M534.3,359.6 L531.4,363.3 L522.6,365.5 L514.5,363.3 L510.1,359.6 L505.7,353.0 L502.0,347.2" fill="none" stroke="#707070" stroke-width="0.95" stroke-linejoin="round"/>
<path d="M531.4,363.3 L533.6,369.9 L530.6,376.5 L529.9,380.2 L538.7,384.6 L543.1,390.5 L546.1,389.7" fill="none" stroke="#707070" stroke-width="0.95" stroke-linejoin="round"/>
<path d="M522.6,365.5 L520.4,372.8 L518.2,380.2 L529.9,380.2" fill="none" stroke="#707070" stroke-width="0.95" stroke-linejoin="round"/>
<path d="M518.2,380.2 L516.7,383.1 L518.2,387.5 L516.7,394.9 L519.6,402.2 L524.0,405.1 L529.2,408.1 L531.4,413.9 L538.7,413.2 L548.3,411.7" fill="none" stroke="#707070" stroke-width="0.95" stroke-linejoin="round"/>
<path d="M529.2,408.1 L528.4,416.9 L530.6,422.0" fill="none" stroke="#707070" stroke-width="0.95" stroke-linejoin="round"/>
<path d="M467.0,432.5 L482.5,433.0 L496.2,434.5 L505.0,433.8 L517.5,427.5 L525.0,423.8 L527.5,430.0 L525.0,440.0 L522.5,448.8 L522.5,460.0" fill="none" stroke="#707070" stroke-width="0.95" stroke-linejoin="round"/>
<path d="M496.2,412.5 L496.2,420.0 L495.0,434.5" fill="none" stroke="#707070" stroke-width="0.95" stroke-linejoin="round"/>
<path d="M492.2,434.5 L492.2,447.2 L489.5,447.5 L489.5,458.0 L489.0,470.0 L480.0,468.8 L478.0,467.5" fill="none" stroke="#707070" stroke-width="0.95" stroke-linejoin="round"/>
<path d="M489.5,458.0 L491.5,463.0 L498.0,459.2 L504.2,458.0 L508.0,454.2 L512.5,448.5 L517.5,448.8 L522.5,448.8" fill="none" stroke="#707070" stroke-width="0.95" stroke-linejoin="round"/>
<path d="M505.5,433.5 L508.0,439.0 L512.0,445.2 L512.5,448.5" fill="none" stroke="#707070" stroke-width="0.95" stroke-linejoin="round"/>
<path d="M530.0,420.0 L533.8,430.0" fill="none" stroke="#707070" stroke-width="0.95" stroke-linejoin="round"/>
<path d="M525.0,423.8 L532.5,417.5 L535.0,425.0 L533.8,430.0 L540.0,433.8" fill="none" stroke="#707070" stroke-width="0.95" stroke-linejoin="round"/>
<path d="M410.6,242.5 L413.8,242.8 L417.5,243.8 L416.9,253.8 L416.2,259.4" fill="none" stroke="#0a2400" stroke-width="0.8" stroke-linejoin="round"/>
<path d="M493.1,215.0 L498.8,213.1 L505.0,213.8 L510.0,212.5 L512.5,210.0" fill="none" stroke="#a09cb0" stroke-width="0.95" stroke-linejoin="round"/>
<path d="M551.5,245.8 L555.2,243.7 L559.6,244.3 L561.8,244.0" fill="none" stroke="#74747e" stroke-width="0.95" stroke-linejoin="round"/>
<path d="M553.0,249.9 L556.6,252.8 L559.6,250.6 L563.3,251.4" fill="none" stroke="#74747e" stroke-width="0.95" stroke-linejoin="round"/>
<path d="M551.5,245.8 L553.0,249.9 L551.5,255.8 L549.3,258.0 L543.4,258.7 L537.6,258.0 L531.7,259.4 L530.2,261.6" fill="none" stroke="#74747e" stroke-width="0.95" stroke-linejoin="round"/>
<path d="M553.0,249.9 L553.0,257.2 L557.4,261.6 L556.6,266.1 L560.3,270.5 L564.0,276.3 L566.9,277.8" fill="none" stroke="#74747e" stroke-width="0.95" stroke-linejoin="round"/>
<path d="M544.9,258.7 L551.5,256.5 L553.0,257.2" fill="none" stroke="#74747e" stroke-width="0.95" stroke-linejoin="round"/>
<path d="M544.9,258.7 L542.7,264.6 L537.6,269.0 L533.2,271.9 L531.0,269.0" fill="none" stroke="#74747e" stroke-width="0.95" stroke-linejoin="round"/>
<path d="M537.6,271.2 L543.4,274.1 L552.2,280.0 L559.6,284.4 L565.5,285.1" fill="none" stroke="#74747e" stroke-width="0.95" stroke-linejoin="round"/>
<path d="M556.6,278.5 L561.8,280.0 L565.5,279.3" fill="none" stroke="#74747e" stroke-width="0.95" stroke-linejoin="round"/>
<path d="M567.7,229.4 L569.9,233.8 L577.2,231.6 L583.1,231.6 L588.9,234.5 L596.3,236.7 L602.1,237.4 L606.6,240.4 L611.0,243.3 L617.6,241.8 L622.7,241.1 L627.1,238.9 L633.0,238.2 L639.6,237.4" fill="none" stroke="#74747e" stroke-width="0.95" stroke-linejoin="round"/>
<path d="M569.9,242.6 L577.2,238.9 L583.1,241.8 L588.9,242.6 L594.8,245.5 L600.7,249.9 L606.6,254.3 L611.0,256.5" fill="none" stroke="#74747e" stroke-width="0.95" stroke-linejoin="round"/>
<path d="M575.7,255.8 L578.7,256.5 L584.5,255.8 L590.4,258.0 L597.7,261.6 L603.6,260.2 L608.0,257.2 L611.0,256.5 L616.8,255.8 L622.7,254.3 L627.1,255.8 L632.2,256.5 L624.9,260.2 L624.2,264.6 L625.6,269.0 L622.7,273.4 L619.0,276.3 L612.4,280.0 L606.6,281.5 L600.7,282.2 L599.9,276.3 L598.5,270.5 L599.9,264.6 L597.7,261.6" fill="none" stroke="#74747e" stroke-width="0.95" stroke-linejoin="round"/>
<path d="M611.0,256.5 L612.4,251.4 L615.4,248.4 L619.8,247.0 L616.8,244.0 L622.7,241.8" fill="none" stroke="#74747e" stroke-width="0.95" stroke-linejoin="round"/>
<path d="M619.8,247.0 L627.1,249.2 L630.0,247.0" fill="none" stroke="#74747e" stroke-width="0.95" stroke-linejoin="round"/>
<path d="M616.8,255.8 L619.8,251.4 L627.8,250.6" fill="none" stroke="#74747e" stroke-width="0.95" stroke-linejoin="round"/>
<path d="M600.7,282.2 L604.3,286.6 L606.6,291.0 L605.1,295.4" fill="none" stroke="#74747e" stroke-width="0.95" stroke-linejoin="round"/>
<path d="M632.2,256.5 L635.9,258.7 L639.6,261.6 L635.9,266.1 L633.0,270.5 L635.9,273.4 L631.5,279.3 L627.1,285.1 L625.6,289.5 L629.3,293.9 L625.6,298.3 L620.5,296.9 L619.8,299.8" fill="none" stroke="#74747e" stroke-width="0.95" stroke-linejoin="round"/>
<path d="M656.2,282.5 L665.0,286.2 L676.2,288.8 L675.0,291.8 L665.0,290.5 L655.0,286.8" fill="none" stroke="#74747e" stroke-width="0.95" stroke-linejoin="round"/>
<path d="M681.2,288.8 L687.5,288.8 L687.5,291.5 L681.2,291.5" fill="none" stroke="#74747e" stroke-width="0.95" stroke-linejoin="round"/>
<path d="M678.8,293.8 L686.2,293.8 L688.8,302.5" fill="none" stroke="#74747e" stroke-width="0.95" stroke-linejoin="round"/>
<path d="M680.0,300.0 L678.8,293.8" fill="none" stroke="#74747e" stroke-width="0.95" stroke-linejoin="round"/>
<path d="M690.0,295.0 L692.5,301.2 L688.8,302.5" fill="none" stroke="#74747e" stroke-width="0.95" stroke-linejoin="round"/>
<path d="M697.5,284.5 L701.2,288.8 L697.5,295.0 L692.5,301.2" fill="none" stroke="#74747e" stroke-width="0.95" stroke-linejoin="round"/>
<path d="M705.0,293.8 L702.5,302.5 L707.5,310.0 L706.2,315.0 L710.0,322.5 L708.8,332.5 L710.0,340.0" fill="none" stroke="#74747e" stroke-width="0.95" stroke-linejoin="round"/>
<path d="M707.5,310.0 L715.0,312.5 L718.8,317.5 L725.0,320.0 L727.5,326.2 L722.5,328.8 L717.5,331.2" fill="none" stroke="#74747e" stroke-width="0.95" stroke-linejoin="round"/>
<path d="M718.8,305.5 L720.0,311.2 L726.2,316.2 L731.2,323.8 L730.0,328.8 L727.5,326.2" fill="none" stroke="#74747e" stroke-width="0.95" stroke-linejoin="round"/>
<path d="M730.0,328.8 L733.8,336.2 L728.8,340.0 L726.2,338.8" fill="none" stroke="#74747e" stroke-width="0.95" stroke-linejoin="round"/>
<path d="M715.0,356.2 L718.8,357.5 L721.2,360.0" fill="none" stroke="#74747e" stroke-width="0.95" stroke-linejoin="round"/>
<path d="M833.8,386.2 L833.8,406.2" fill="none" stroke="#666" stroke-width="0.8" stroke-linejoin="round"/>
<path d="M271.3,431.3 L270.5,440.0" fill="none" stroke="#8c8c8c" stroke-width="0.95" stroke-linejoin="round"/>
</g>
<g id="legend">
<rect x="112.5" y="601" width="55" height="13.5" fill="#dedede" stroke="#333" stroke-width="1"/>
<rect x="187" y="601" width="36" height="13.5" fill="#ffff30"/>
<rect x="223" y="601" width="36.5" height="13.5" fill="#60d814"/>
<rect x="259.5" y="601" width="72" height="13.5" fill="#008c00"/>
<rect x="331.5" y="601" width="216" height="13.5" fill="#004400"/>
<rect x="547.5" y="601" width="361.5" height="13.5" fill="#000"/>
<rect x="187" y="601" width="722" height="13.5" fill="none" stroke="#1a3a00" stroke-width="0.8"/>
<path d="M187,597.5V614.5M223,597.5V614.5M259.5,597.5V614.5M331.5,597.5V614.5M547.5,597.5V614.5M909,597.5V614.5" stroke="#222" stroke-width="0.9"/>
</g>
<g id="timeline">
<path d="M13.5,669 L33.5,679.5 L13.5,690 Z" fill="#000"/>
<rect x="172" y="676.9" width="709" height="4.8" rx="2.4" fill="#0a1562"/>
<circle cx="880.5" cy="679.5" r="9.3" fill="#fff" stroke="#0a1f9a" stroke-width="2.6"/>
</g>
</svg>
<div class="abs leg" id="l_nd" style="left:113px">No data</div>
<div class="abs leg" id="l0" style="left:183px">0</div>
<div class="abs leg" id="l1" style="left:208px">0.05</div>
<div class="abs leg" id="l2" style="left:249px">0.1</div>
<div class="abs leg" id="l3" style="left:321px">0.2</div>
<div class="abs leg" id="l4" style="left:537px">0.5</div>
<div class="abs leg" id="l5" style="left:901px">&gt;1</div>
<div class="abs" id="src">Source: Official data collated by Our World in Data – Last updated 12 January, 13:50 (London time)</div>
<div class="abs" id="cc">CC BY</div>
<div class="abs date" id="d1" style="left:43px">Dec 15, 2020</div>
<div class="abs date" id="d2" style="left:902px">Jan 12, 2021</div>
</body></html>
